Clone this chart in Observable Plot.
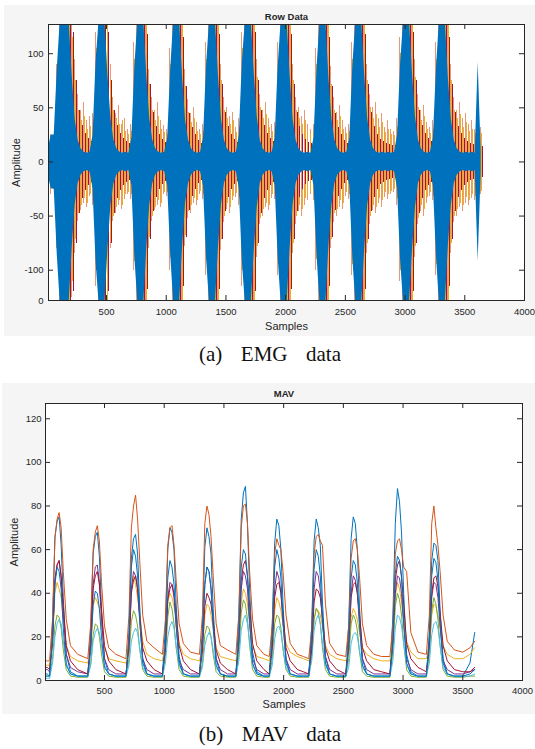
<!DOCTYPE html>
<html><head><meta charset="utf-8">
<script src="https://cdn.jsdelivr.net/npm/d3@7"></script>
<script src="https://cdn.jsdelivr.net/npm/@observablehq/plot@0.6"></script>
<style>
body{margin:0;background:#fff;width:535px;height:749px;position:relative;overflow:hidden}
.panel{position:absolute}
.panel svg{display:block}
.cap{position:absolute;left:0;width:540px;text-align:center;font-family:"Liberation Serif","Times New Roman",serif;font-size:21px;line-height:24px;white-space:pre;word-spacing:4px;color:#111}
</style></head><body>
<div id="a" class="panel" style="left:4px;top:5px"></div>
<div class="cap" style="top:342px">(a)  EMG  data</div>
<div id="b" class="panel" style="left:2px;top:383px"></div>
<div class="cap" style="top:722px">(b)  MAV  data</div>
<script>
// ---------- tick labels ----------
const xTickValues = [500, 1000, 1500, 2000, 2500, 3000, 3500, 4000];
const emgYTicks = [-128, -100, -50, 0, 50, 100];
const emgYTickMarks = [-100, -50, 0, 50, 100];
const mavYTicks = [0, 20, 40, 60, 80, 100, 120];

// ---------- EMG (raw signal envelope per 25-sample bin) ----------
const BIN = 25;
const emgBlue = [
  12,25,25,85,130,130,130,130,80,40,
  20,12,9,8,9,25,92,130,130,130,
  80,40,20,12,9,8,9,8,22,88,
  130,130,130,80,40,20,12,9,8,9,
  22,85,130,130,130,78,38,20,12,9,
  8,9,22,88,130,130,130,80,40,20,
  12,9,8,9,25,92,130,130,130,82,
  42,20,12,9,8,9,22,88,130,130,
  130,80,40,20,12,9,8,9,8,22,
  85,130,130,130,78,40,20,12,9,8,
  9,22,88,130,130,130,80,40,20,12,
  9,8,9,8,9,8,9,25,90,130,
  130,130,82,42,20,12,9,8,9,22,
  85,130,130,130,78,40,20,12,9,8,
  9,8,9,8,92,10];
const emgDarkRed = [
  12,14,20,75,130,130,130,130,120,75,
  48,34,26,22,19,22,100,130,130,130,
  120,75,48,34,26,22,19,17,20,95,
  130,130,130,118,72,46,33,25,21,18,
  20,90,130,130,130,115,70,45,32,25,
  20,17,20,95,130,130,130,118,72,46,
  33,25,21,18,22,100,130,130,130,120,
  75,48,34,26,22,19,20,95,130,130,
  130,118,72,46,33,25,21,18,17,20,
  90,130,130,130,115,70,45,32,25,20,
  17,20,95,130,130,130,118,72,46,33,
  25,21,19,17,16,15,15,22,95,130,
  130,130,120,75,48,34,26,22,19,20,
  90,130,130,130,115,72,46,33,26,22,
  19,17,16,15,15,14];
const emgOrangeHi = [
  20,25,22,90,130,130,130,130,130,95,
  62,48,55,38,42,45,120,130,130,130,
  130,90,60,45,52,35,40,30,35,110,
  130,130,130,130,85,60,48,55,38,34,
  30,105,130,130,130,130,85,58,45,50,
  36,30,35,110,130,130,130,130,90,60,
  50,42,46,32,40,120,130,130,130,130,
  95,62,48,55,40,35,36,110,130,130,
  130,130,90,60,50,42,48,35,30,35,
  105,130,130,130,130,88,60,46,52,38,
  32,35,110,130,130,130,130,90,62,50,
  55,40,45,32,38,30,28,40,115,130,
  130,130,130,95,62,48,52,36,32,38,
  110,130,130,130,130,90,60,48,55,40,
  45,35,38,30,40,32];
const emgOrangeLo = [
  -22,-30,-25,-80,-130,-130,-130,-130,-125,-85,
  -55,-45,-38,-42,-32,-40,-115,-130,-130,-130,
  -130,-80,-55,-48,-40,-44,-35,-30,-35,-100,
  -130,-130,-130,-130,-80,-55,-45,-40,-42,-30,
  -32,-100,-130,-130,-130,-130,-78,-52,-48,-38,
  -40,-30,-35,-105,-130,-130,-130,-130,-82,-56,
  -44,-48,-36,-33,-40,-115,-130,-130,-130,-130,
  -88,-58,-50,-42,-45,-34,-35,-105,-130,-130,
  -130,-130,-85,-58,-46,-50,-40,-36,-30,-36,
  -100,-130,-130,-130,-130,-80,-56,-50,-42,-44,
  -32,-35,-105,-130,-130,-130,-130,-85,-58,-45,
  -48,-38,-42,-33,-35,-30,-28,-40,-110,-130,
  -130,-130,-130,-88,-58,-46,-50,-38,-32,-36,
  -105,-130,-130,-130,-130,-85,-56,-50,-42,-46,
  -38,-40,-34,-36,-48,-30];
const emgYellowHi = [
  15,18,16,70,130,130,130,130,115,75,
  48,38,42,30,33,35,105,130,130,130,
  130,75,48,40,35,38,28,25,28,95,
  130,130,130,130,72,48,38,42,30,27,
  25,90,130,130,130,130,70,46,36,40,
  28,25,28,95,130,130,130,130,75,48,
  40,35,38,27,32,105,130,130,130,130,
  78,50,40,44,32,28,30,95,130,130,
  130,130,75,48,40,35,38,28,25,28,
  90,130,130,130,130,72,48,38,42,30,
  26,28,95,130,130,130,130,75,50,40,
  44,32,36,27,30,25,24,32,100,130,
  130,130,130,78,50,38,42,30,26,30,
  95,130,130,130,130,75,48,40,44,32,
  36,28,30,26,32,26];
const emgYellowLo = [
  -18,-22,-20,-70,-130,-130,-130,-130,-110,-72,
  -48,-40,-34,-38,-30,-32,-100,-130,-130,-130,
  -130,-72,-50,-42,-36,-40,-30,-28,-30,-92,
  -130,-130,-130,-130,-70,-50,-42,-36,-38,-28,
  -28,-88,-130,-130,-130,-130,-68,-46,-40,-34,
  -36,-27,-30,-92,-130,-130,-130,-130,-72,-50,
  -38,-42,-32,-29,-33,-100,-130,-130,-130,-130,
  -78,-52,-44,-38,-40,-30,-30,-95,-130,-130,
  -130,-130,-75,-50,-40,-44,-34,-32,-27,-30,
  -90,-130,-130,-130,-130,-72,-48,-44,-36,-38,
  -28,-30,-95,-130,-130,-130,-130,-75,-50,-40,
  -42,-34,-36,-28,-30,-27,-25,-34,-100,-130,
  -130,-130,-130,-78,-52,-40,-44,-33,-28,-32,
  -95,-130,-130,-130,-130,-75,-50,-44,-38,-40,
  -33,-36,-30,-32,-38,-27];

// ---------- MAV (8 channels) ----------
const mavX = [6,20,
  40,65,85,103,120,137,155,180,215,275,
  360,385,405,423,440,457,475,500,535,595,
  680,705,725,743,760,777,795,820,855,915,
  985,1010,1030,1048,1065,1082,1100,1125,1160,1220,
  1295,1320,1340,1358,1375,1392,1410,1435,1470,1530,
  1600,1625,1645,1663,1680,1697,1715,1740,1775,1835,
  1880,1905,1925,1943,1960,1977,1995,2020,2055,2115, 2165,
  2210,2235,2255,2273,2290,2307,2325,2350,2385,2445,
  2520,2545,2565,2583,2600,2617,2635,2660,2695,2755, 2820,
  2890,2915,2935,2953,2970,2987,3005,3030,3065,3125,
  3195,3220,3240,3258,3275,3292,3310,3335,3370,3430,
  3500,3560,3600];
const mavCh1 = [3,3,
  2,26,66,73,75,62,38,12,4,2,
  2,24,58,66,68,57,33,10,3,2,
  2,22,56,65,67,58,34,10,3,2,
  2,25,60,70,68,60,35,11,3,2,
  2,24,61,70,66,58,33,10,3,2,
  2,30,74,86,89,72,42,13,4,2,
  2,26,63,74,71,60,35,10,3,2, 2,
  2,25,64,74,70,62,36,11,3,2,
  2,26,65,75,72,60,34,10,3,2, 2,
  2,30,72,88,82,68,40,12,4,2,
  2,22,55,63,62,55,32,10,3,2,
  2,8,22];
const mavCh2 = [9,9,
  9,28,65,74,77,70,50,28,16,12,
  10,26,60,68,71,64,45,25,15,12,
  10,30,70,80,85,74,55,30,18,15,
  12,28,62,70,71,62,46,26,17,13,
  12,30,72,80,76,66,48,26,16,14,
  12,30,70,80,81,72,50,28,16,12,
  11,26,58,65,62,60,50,30,17,12, 11,
  10,24,58,66,67,64,62,35,17,12,
  11,25,56,64,65,60,48,26,16,12, 11,
  11,26,58,64,65,60,52,50,22,13,
  12,30,72,80,70,62,50,30,18,14,
  13,15,18];
const mavCh3 = [7,7,
  7,18,40,45,42,38,28,16,11,9,
  8,15,34,38,36,33,25,15,10,9,
  8,18,42,48,44,38,30,18,12,10,
  9,16,36,40,38,34,28,17,12,10,
  9,15,30,35,34,30,24,15,11,10,
  9,17,36,42,40,35,27,16,11,10,
  9,16,32,38,36,32,26,17,13,11, 10,
  9,14,28,33,32,30,25,16,12,10,
  9,14,29,33,31,28,22,15,12,10, 9,
  9,18,38,45,42,36,28,18,13,10,
  10,15,30,35,34,30,24,16,12,10,
  10,12,15];
const mavCh4 = [5,5,
  4,18,46,53,55,47,30,12,6,4,
  3,17,44,52,53,45,28,10,5,3,
  3,16,42,50,48,42,27,10,5,3,
  3,15,38,45,44,38,25,9,5,3,
  3,17,44,52,50,42,27,10,5,3,
  3,16,42,50,48,42,26,10,5,3,
  3,16,42,50,47,40,26,10,5,3, 3,
  3,16,42,50,48,41,27,11,5,3,
  3,15,40,48,46,40,26,10,5,3, 3,
  3,15,40,48,47,40,26,10,5,3,
  3,14,38,45,44,38,25,9,5,3,
  3,4,5];
const mavCh5 = [2,2,
  2,10,25,30,29,24,14,5,2,1.5,
  1.5,8,21,26,25,20,12,4,2,1.5,
  1.5,10,27,32,30,25,14,5,2,1.5,
  1.5,11,29,36,33,26,15,5,2,1.5,
  1.5,8,21,25,24,20,12,4,2,1.5,
  1.5,12,31,37,35,28,16,5,2,1.5,
  1.5,10,26,30,29,24,14,5,2,1.5, 1.5,
  1.5,11,28,33,31,26,15,5,2,1.5,
  1.5,10,26,30,28,23,13,4,2,1.5, 1.5,
  1.5,13,34,40,37,30,17,5,2,1.5,
  1.5,12,32,38,35,28,16,5,2,1.5,
  1.5,2,2];
const mavCh6 = [1,1,
  1,8,20,26,28,26,18,8,3,2,
  2,7,18,22,24,22,16,7,3,2,
  2,7,18,22,24,22,15,6,3,2,
  2,8,20,25,27,24,16,7,3,2,
  2,6,16,20,22,20,14,6,3,2,
  2,9,23,28,30,26,18,7,3,2,
  2,7,19,24,25,22,15,6,3,2, 2,
  2,9,23,28,30,26,17,7,3,2,
  2,6,17,21,22,20,14,6,3,2, 2,
  2,9,24,30,29,25,17,7,3,2,
  2,8,21,26,27,24,16,6,3,2,
  2,2,3];
const mavCh7 = [6,6,
  5,18,46,53,55,48,34,16,9,5,
  3,16,42,48,50,44,32,16,9,5,
  3,15,40,46,48,42,30,15,9,5,
  3,14,37,42,44,40,30,16,9,5,
  3,13,34,40,38,35,27,14,8,5,
  3,18,46,53,55,48,34,17,9,5,
  3,15,38,44,45,40,30,15,9,5, 4,
  3,14,36,42,41,38,29,15,9,5,
  3,15,38,44,45,40,30,15,9,5, 4,
  3,18,46,53,55,48,35,17,10,6,
  4,16,40,47,48,43,31,16,9,5,
  4,4,6];
const mavCh8 = [2,2,
  2,18,44,52,50,42,24,7,3,2,
  2,14,35,41,40,33,20,6,3,2,
  2,20,52,60,57,48,28,8,3,2,
  2,18,47,55,52,44,26,8,3,2,
  2,18,44,52,50,42,24,7,3,2,
  2,20,52,60,58,48,28,8,3,2,
  2,20,52,60,56,47,27,8,3,2, 2,
  2,20,51,60,57,48,28,8,3,2,
  2,18,47,55,53,45,26,7,3,2, 2,
  2,19,49,57,55,47,27,8,3,2,
  2,19,48,56,54,46,27,8,3,2,
  2,3,5];
const mavChannels = [mavCh1, mavCh2, mavCh3, mavCh4, mavCh5, mavCh6, mavCh7, mavCh8];
const matlabColors = ["#0072BD","#D95319","#EDB120","#7E2F8E","#77AC30","#4DBEEE","#A2142F","#0072BD"];

// ---------- helpers ----------
const AX = "#262626";
const band = (hi, lo, off) => hi.map((h, i) => ({x: i * BIN + off, hi: h, lo: lo[i]}));
const neg = a => a.map(v => -v);
function boxTicks(W, H, m, xT, yT) {
  const iw = W - m.l - m.r, ih = H - m.t - m.b;
  return [
    Plot.ruleX(xT, {x: d => d, insetTop: ih - 5, stroke: AX}),
    Plot.ruleX(xT, {x: d => d, insetBottom: ih - 5, stroke: AX}),
    Plot.ruleY(yT, {y: d => d, insetRight: iw - 5, stroke: AX}),
    Plot.ruleY(yT, {y: d => d, insetLeft: iw - 5, stroke: AX}),
    Plot.frame({stroke: AX, strokeWidth: 1})
  ];
}
const baseStyle = {background: "#f5f5f5", fontFamily: "'Liberation Sans', Arial, sans-serif", fontSize: "9.5px", color: AX};
const emgSpikes = (hi, lo, off, stroke, op, sw) =>
  Plot.ruleX(band(hi, lo, off), {x: "x", y1: "lo", y2: "hi", stroke, strokeOpacity: op, strokeWidth: sw, shapeRendering: "crispEdges", clip: true});
const label = (s, o) => Plot.text([s], {text: d => d, lineAnchor: "middle", textAnchor: "middle", ...o});

// ---------- (a) EMG ----------
const WA = 531, HA = 331, mA = {t: 19, r: 11, b: 36, l: 44};
const plotA = Plot.plot({
  width: WA, height: HA,
  marginTop: mA.t, marginRight: mA.r, marginBottom: mA.b, marginLeft: mA.l,
  style: baseStyle,
  x: {domain: [14, 4000]},
  y: {domain: [-128, 127]},
  marks: [
    Plot.frame({fill: "white", stroke: "none"}),
    emgSpikes(emgOrangeHi, emgOrangeLo, 4, "#D95319", 0.6, 1),
    emgSpikes(emgYellowHi, emgYellowLo, 12, "#EDB120", 1, 1),
    emgSpikes(emgDarkRed, neg(emgDarkRed), 20, "#A2142F", 1, 1),
    Plot.areaY(band(emgBlue, neg(emgBlue), 12), {x: "x", y1: "lo", y2: "hi", fill: "#0072BD", curve: "linear", clip: true}),
    ...boxTicks(WA, HA, mA, xTickValues, emgYTickMarks),
    Plot.axisX(xTickValues, {tickSize: 0, tickPadding: 8, label: null, tickFormat: d => String(d)}),
    Plot.axisY(emgYTicks, {tickSize: 0, tickPadding: 5, label: null, tickFormat: d => d === -128 ? "0" : String(d)}),
    label("Row Data", {frameAnchor: "top", dy: -8, fontWeight: "bold", fontSize: 9.5}),
    label("Samples", {frameAnchor: "bottom", dy: 26, fontSize: 11}),
    label("Amplitude", {frameAnchor: "left", rotate: -90, dx: -32, fontSize: 11})
  ]
});
document.getElementById("a").appendChild(plotA);

// ---------- (b) MAV ----------
const WB = 533, HB = 331, mB = {t: 20, r: 13, b: 34, l: 43};
const series = ys => mavX.map((x, i) => ({x, y: ys[i]}));
const plotB = Plot.plot({
  width: WB, height: HB,
  marginTop: mB.t, marginRight: mB.r, marginBottom: mB.b, marginLeft: mB.l,
  style: baseStyle,
  x: {domain: [6, 4000]},
  y: {domain: [0, 127]},
  marks: [
    Plot.frame({fill: "white", stroke: "none"}),
    ...mavChannels.map((ys, k) => Plot.line(series(ys), {x: "x", y: "y", stroke: matlabColors[k], strokeWidth: 1, clip: true})),
    ...boxTicks(WB, HB, mB, xTickValues, mavYTicks.slice(1)),
    Plot.axisX(xTickValues, {tickSize: 0, tickPadding: 7, label: null, tickFormat: d => String(d)}),
    Plot.axisY(mavYTicks, {tickSize: 0, tickPadding: 4, label: null, tickFormat: d => String(d)}),
    label("MAV", {frameAnchor: "top", dy: -10, fontWeight: "bold", fontSize: 9.5, letterSpacing: "0.5px"}),
    label("Samples", {frameAnchor: "bottom", dy: 24, fontSize: 11}),
    label("Amplitude", {frameAnchor: "left", rotate: -90, dx: -31, fontSize: 11})
  ]
});
document.getElementById("b").appendChild(plotB);
</script>
</body></html>
